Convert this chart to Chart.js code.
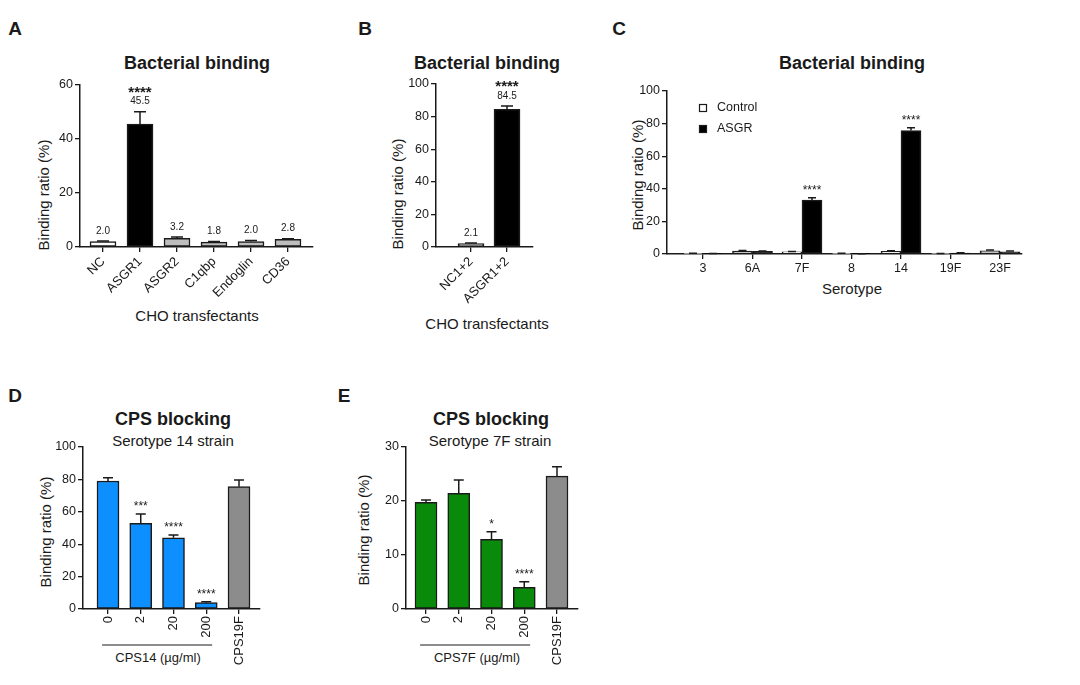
<!DOCTYPE html>
<html>
<head>
<meta charset="utf-8">
<script src="https://cdn.jsdelivr.net/npm/chart.js@4/dist/chart.umd.min.js"></script>
<style>
  body { margin: 0; width: 1080px; height: 685px; position: relative; overflow: hidden; background: #fff;
         font-family: "Liberation Sans", Arial, sans-serif; color: #1a1a1a; }
  canvas { position: absolute; }
  .t { position: absolute; white-space: nowrap; transform: translate(-50%, -50%); }
  .letter { font-weight: bold; font-size: 19px; }
  .title { font-weight: bold; font-size: 18px; }
  .sub { font-size: 15px; }
  .axis { font-size: 15px; }
  .small { font-size: 13px; }
  .ylab { transform: translate(-50%, -50%) rotate(-90deg); }
</style>
</head>
<body>
<!-- panel letters -->
<div class="t letter" style="left:15px;top:29px">A</div>
<div class="t letter" style="left:365px;top:29px">B</div>
<div class="t letter" style="left:619px;top:29px">C</div>
<div class="t letter" style="left:15px;top:396px">D</div>
<div class="t letter" style="left:344px;top:396px">E</div>

<!-- titles -->
<div class="t title" style="left:197px;top:63px">Bacterial binding</div>
<div class="t title" style="left:487px;top:63px">Bacterial binding</div>
<div class="t title" style="left:852px;top:63px">Bacterial binding</div>
<div class="t title" style="left:173px;top:419px">CPS blocking</div>
<div class="t sub" style="left:173px;top:440px">Serotype 14 strain</div>
<div class="t title" style="left:491px;top:419px">CPS blocking</div>
<div class="t sub" style="left:490px;top:440px">Serotype 7F strain</div>

<!-- axis titles -->
<div class="t axis ylab" style="left:43px;top:195px">Binding ratio (%)</div>
<div class="t axis ylab" style="left:397px;top:194px">Binding ratio (%)</div>
<div class="t axis ylab" style="left:637px;top:175px">Binding ratio (%)</div>
<div class="t axis ylab" style="left:45px;top:532px">Binding ratio (%)</div>
<div class="t axis ylab" style="left:363px;top:530px">Binding ratio (%)</div>
<div class="t axis" style="left:197px;top:315px">CHO transfectants</div>
<div class="t axis" style="left:487px;top:323px">CHO transfectants</div>
<div class="t axis" style="left:852px;top:288px">Serotype</div>
<div class="t small" style="left:158px;top:657px">CPS14 (µg/ml)</div>
<div class="t small" style="left:477px;top:657px">CPS7F (µg/ml)</div>

<script>
/* DATA */
const aCats = ["NC", "ASGR1", "ASGR2", "C1qbp", "Endoglin", "CD36"];
const aValues = [2.0, 45.5, 3.2, 1.8, 2.0, 2.8];
const aErrors = [0.2, 4.6, 0.5, 0.2, 0.4, 0.3];
const aStars = ["", "****", "", "", "", ""];
const aTicks = [0, 20, 40, 60];

const bCats = ["NC1+2", "ASGR1+2"];
const bValues = [2.1, 84.5];
const bErrors = [0.4, 2.0];
const bStars = ["", "****"];
const bTicks = [0, 20, 40, 60, 80, 100];

const cCats = ["3", "6A", "7F", "8", "14", "19F", "23F"];
const cControl = [0.3, 1.8, 1.3, 0.3, 1.6, 0.2, 2.0];
const cControlErr = [0.1, 0.3, 0.3, 0.1, 0.4, 0.1, 0.4];
const cAsgr = [0.2, 1.6, 33.1, 0.1, 75.7, 0.5, 1.4];
const cAsgrErr = [0.1, 0.3, 1.4, 0.05, 1.8, 0.2, 0.5];
const cStars = ["", "", "****", "", "****", "", ""];
const cTicks = [0, 20, 40, 60, 80, 100];

const dCats = ["0", "2", "20", "200", "CPS19F"];
const dValues = [79.0, 52.9, 44.0, 3.9, 75.5];
const dErrors = [2.0, 5.7, 1.7, 0.6, 4.1];
const dStars = ["", "***", "****", "****", ""];
const dTicks = [0, 20, 40, 60, 80, 100];

const eCats = ["0", "2", "20", "200", "CPS19F"];
const eValues = [19.75, 21.4, 12.9, 4.0, 24.6];
const eErrors = [0.45, 2.5, 1.4, 1.05, 1.75];
const eStars = ["", "", "*", "****", ""];
const eTicks = [0, 10, 20, 30];

/* STYLE */
const family = '"Liberation Sans", Arial, sans-serif';
const ink = "#1a1a1a";
Chart.defaults.font.family = family;
Chart.defaults.color = ink;

const M = { left: 40, top: 30, right: 15, bottom: 80 };

function makeCanvas(area) {
  const c = document.createElement("canvas");
  c.width = area.R - area.L + M.left + M.right;
  c.height = area.B - area.T + M.top + M.bottom;
  c.style.left = (area.L - M.left) + "px";
  c.style.top = (area.T - M.top) + "px";
  document.body.appendChild(c);
  return c;
}

/* error bars, value labels, stars, bracket, legend */
const marks = {
  id: "marks",
  afterDatasetsDraw(chart, args, o) {
    const { ctx, scales: { x, y }, chartArea } = chart;
    ctx.save();
    ctx.strokeStyle = ink;
    ctx.fillStyle = ink;
    ctx.lineWidth = 1.5;
    ctx.textAlign = "center";
    ctx.textBaseline = "middle";
    chart.data.datasets.forEach((ds, di) => {
      chart.getDatasetMeta(di).data.forEach((bar, i) => {
        const top = y.getPixelForValue(ds.data[i].y + ds.errors[i]);
        ctx.beginPath();
        ctx.moveTo(bar.x, bar.y);
        ctx.lineTo(bar.x, top);
        ctx.moveTo(bar.x - o.cap, top);
        ctx.lineTo(bar.x + o.cap, top);
        ctx.stroke();
        let sy = top - 10;
        if (ds.valueLabels) {
          ctx.font = `10px ${family}`;
          ctx.fillText(ds.valueLabels[i], bar.x, top - 10);
          sy = top - 23;
        }
        if (ds.stars && ds.stars[i]) {
          ctx.font = `${o.starWeight || ""} ${o.starSize}px ${family}`;
          ctx.fillText(ds.stars[i], bar.x, sy + 0.25 * o.starSize);
        }
      });
    });
    if (o.bracket) {
      const b = o.bracket;
      const by = chartArea.bottom + b.dy;
      ctx.lineWidth = 1;
      ctx.beginPath();
      ctx.moveTo(x.getPixelForValue(b.from - b.pad), by);
      ctx.lineTo(x.getPixelForValue(b.to + b.pad), by);
      ctx.stroke();
    }
    if (o.legend) {
      const l = o.legend;
      ctx.textAlign = "left";
      ctx.font = `12.5px ${family}`;
      chart.data.datasets.forEach((ds, di) => {
        const cx = chartArea.left + l.dx;
        const cy = chartArea.top + l.dy + di * l.gap;
        ctx.fillStyle = ds.backgroundColor;
        ctx.fillRect(cx - l.size / 2, cy - l.size / 2, l.size, l.size);
        ctx.lineWidth = 1.2;
        ctx.strokeRect(cx - l.size / 2, cy - l.size / 2, l.size, l.size);
        ctx.fillStyle = ink;
        ctx.fillText(ds.label, cx + l.textDx, cy);
      });
    }
    ctx.restore();
  }
};

function barPanel(p) {
  const canvas = makeCanvas(p.area);
  return new Chart(canvas, {
    type: "bar",
    data: { datasets: p.datasets },
    options: {
      responsive: false,
      animation: false,
      layout: { padding: { left: 0, top: M.top, right: M.right, bottom: 0 } },
      datasets: { bar: { barThickness: p.barW, borderWidth: 1.5, borderColor: ink, borderSkipped: false } },
      plugins: { legend: { display: false }, tooltip: { enabled: false }, marks: p.marks },
      scales: {
        x: {
          type: "linear", min: p.xMin, max: p.xMax, offset: false,
          afterBuildTicks: s => { s.ticks = p.cats.map((c, i) => ({ value: i })); },
          afterFit: s => { s.height = M.bottom; },
          grid: { offset: false, drawOnChartArea: false, tickLength: 5, color: ink, lineWidth: 1.3 },
          border: { color: ink, width: 1.5 },
          ticks: {
            autoSkip: false, minRotation: p.rot, maxRotation: p.rot, padding: 2, color: ink,
            font: { size: p.xFont },
            callback: v => p.cats[Math.round(v)]
          }
        },
        y: {
          min: 0, max: p.yTicks[p.yTicks.length - 1],
          afterBuildTicks: s => { s.ticks = p.yTicks.map(v => ({ value: v })); },
          afterFit: s => { s.width = M.left; },
          grid: { drawOnChartArea: false, tickLength: 5, color: ink, lineWidth: 1.3 },
          border: { color: ink, width: 1.5 },
          ticks: { padding: 2, color: ink, font: { size: 12.5 } }
        }
      }
    },
    plugins: [marks]
  });
}

const pts = vals => vals.map((v, i) => ({ x: i, y: v }));

/* A */
barPanel({
  area: { L: 80, R: 313, T: 85, B: 247 }, xMin: -0.622, xMax: 5.676, rot: 45, xFont: 13,
  cats: aCats, yTicks: aTicks, barW: 26,
  marks: { cap: 6, starSize: 15, starWeight: "bold" },
  datasets: [{
    data: pts(aValues), errors: aErrors, stars: aStars,
    valueLabels: aValues.map(v => v.toFixed(1)),
    backgroundColor: ["#ffffff", "#000000", "#bdbdbd", "#bdbdbd", "#bdbdbd", "#bdbdbd"]
  }]
});

/* B */
barPanel({
  area: { L: 436, R: 533, T: 84, B: 247 }, xMin: -0.972, xMax: 1.722, rot: 45, xFont: 13,
  cats: bCats, yTicks: bTicks, barW: 26,
  marks: { cap: 6, starSize: 15, starWeight: "bold" },
  datasets: [{
    data: pts(bValues), errors: bErrors, stars: bStars,
    valueLabels: bValues.map(v => v.toFixed(1)),
    backgroundColor: ["#f2f2f2", "#000000"]
  }]
});

/* C */
barPanel({
  area: { L: 667, R: 1022, T: 91, B: 254 }, xMin: -0.727, xMax: 6.444, rot: 0, xFont: 12.5,
  cats: cCats, yTicks: cTicks, barW: 20,
  marks: { cap: 4, starSize: 12, legend: { dx: 36, dy: 17, gap: 21, size: 7, textDx: 14 } },
  datasets: [
    { label: "Control", data: pts(cControl), errors: cControlErr, backgroundColor: "#ffffff" },
    { label: "ASGR", data: pts(cAsgr), errors: cAsgrErr, stars: cStars, backgroundColor: "#000000" }
  ]
});

/* D */
barPanel({
  area: { L: 83, R: 260, T: 447, B: 609 }, xMin: -0.763, xMax: 4.641, rot: 90, xFont: 13,
  cats: dCats, yTicks: dTicks, barW: 22,
  marks: { cap: 5, starSize: 12, bracket: { from: 0, to: 3, pad: 0.18, dy: 36 } },
  datasets: [{
    data: pts(dValues), errors: dErrors, stars: dStars,
    backgroundColor: ["#0d8fff", "#0d8fff", "#0d8fff", "#0d8fff", "#8c8c8c"]
  }]
});

/* E */
barPanel({
  area: { L: 406, R: 578, T: 447, B: 609 }, xMin: -0.611, xMax: 4.641, rot: 90, xFont: 13,
  cats: eCats, yTicks: eTicks, barW: 22,
  marks: { cap: 5, starSize: 12, bracket: { from: 0, to: 3, pad: 0.18, dy: 36 } },
  datasets: [{
    data: pts(eValues), errors: eErrors, stars: eStars,
    backgroundColor: ["#0a8a0a", "#0a8a0a", "#0a8a0a", "#0a8a0a", "#8c8c8c"]
  }]
});
</script>
</body>
</html>
